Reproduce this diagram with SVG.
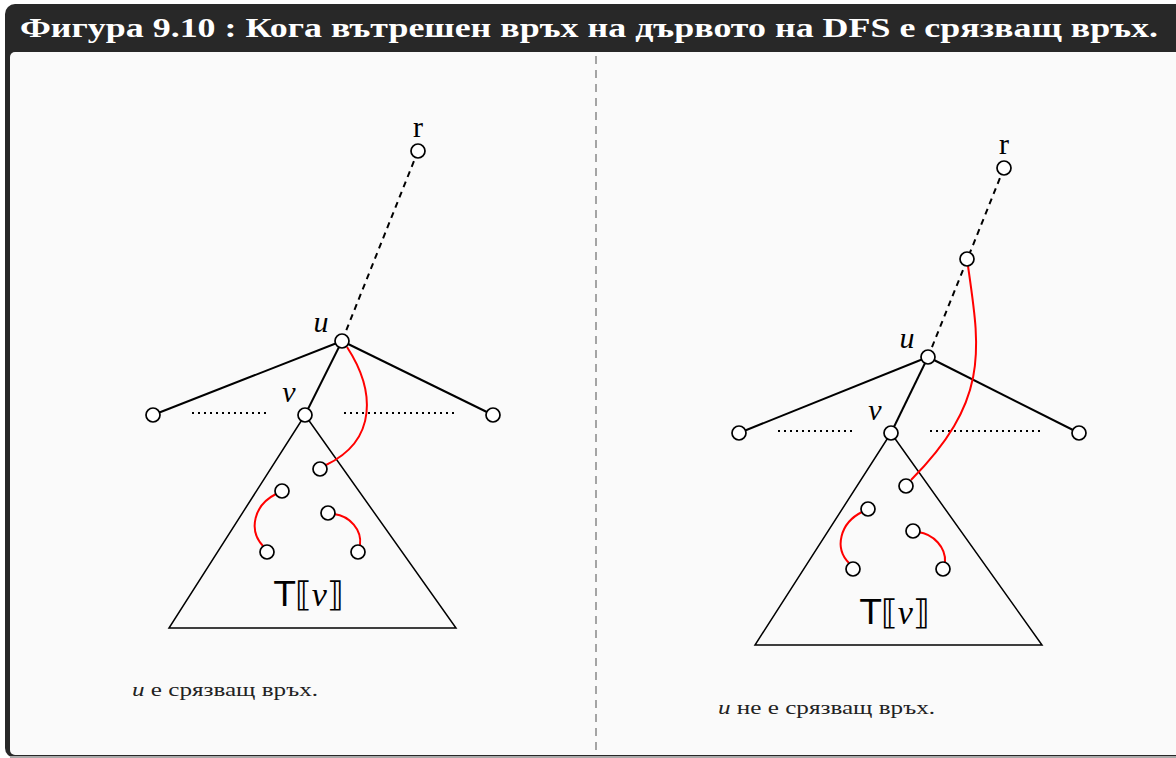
<svg xmlns="http://www.w3.org/2000/svg" width="1176" height="758" viewBox="0 0 1176 758">
<style>
.edge{stroke:#000;stroke-width:2;fill:none}
.tree{stroke:#000;stroke-width:2;stroke-dasharray:6,5;fill:none}
.dots{stroke:#000;stroke-width:2;stroke-dasharray:2,4;fill:none}
.tri{stroke:#000;stroke-width:1.5;fill:none}
.back{stroke:#f00;stroke-width:2;fill:none}
.node{fill:#fff;stroke:#000;stroke-width:1.7}
.lbl{font-family:"Liberation Serif",serif;font-style:italic;font-size:30px;fill:#000;text-anchor:middle}
.cap{font-family:"Liberation Serif",serif;font-size:18px;fill:#222}
.tv{font-family:"DejaVu Sans",sans-serif;font-size:34px;fill:#000;text-anchor:middle}
.title{font-family:"Liberation Serif",serif;font-weight:bold;font-size:28px;fill:#fff}
</style>
<rect x="0" y="0" width="1176" height="758" fill="#fff"/>
<rect x="5" y="4" width="1220" height="754" rx="10" fill="#282828"/>
<rect x="10" y="52" width="1220" height="703" rx="5" fill="#fafafa"/>
<line x1="10" y1="757" x2="1176" y2="757" stroke="#aaa" stroke-width="2"/>
<text class="title" x="20" y="37" textLength="1138" lengthAdjust="spacingAndGlyphs">Фигура 9.10 : Кога вътрешен връх на дървото на DFS е срязващ връх.</text>
<line x1="596" y1="56" x2="596" y2="754" stroke="#888" stroke-width="1.5" stroke-dasharray="8,6"/>

<g id="connectors">
<line class="tree" x1="418" y1="151" x2="342" y2="341"/>
<line class="edge" x1="342" y1="341" x2="153" y2="415"/>
<line class="edge" x1="342" y1="341" x2="493" y2="415"/>
<line class="edge" x1="342" y1="341" x2="305" y2="415"/>
<line class="dots" x1="192" y1="413" x2="268" y2="413"/>
<line class="dots" x1="344" y1="413" x2="456" y2="413"/>
<polyline class="tri" points="305,415 169,628 456,628 305,415"/>
<path class="back" d="M347 347 C375 390 378 440 326 465"/>
<path class="back" d="M276 494 C254 505 248 530 263 546"/>
<path class="back" d="M334 514 C350 516 362 530 360 545"/>
<line class="tree" x1="1004" y1="168" x2="928" y2="357"/>
<line class="edge" x1="928" y1="357" x2="739" y2="433"/>
<line class="edge" x1="928" y1="357" x2="1079" y2="433"/>
<line class="edge" x1="928" y1="357" x2="891" y2="433"/>
<line class="dots" x1="778" y1="431" x2="854" y2="431"/>
<line class="dots" x1="930" y1="431" x2="1042" y2="431"/>
<polyline class="tri" points="891,433 755,645 1042,645 891,433"/>
<path class="back" d="M968 266 C980 350 990 400 911 480"/>
<path class="back" d="M862 512 C840 523 834 548 849 563"/>
<path class="back" d="M918 532 C934 534 946 548 945 562"/>
</g>

<g id="left-r"><circle class="node" cx="418" cy="151" r="7"/><text class="lbl" x="418" y="137" style="font-style:normal">r</text></g>
<g id="left-u"><circle class="node" cx="342" cy="341" r="7"/><text class="lbl" x="321" y="332">u</text></g>
<g id="left-v"><circle class="node" cx="305" cy="415" r="7"/><text class="lbl" x="289" y="402">v</text></g>
<g id="left-l"><circle class="node" cx="153" cy="415" r="7"/></g>
<g id="left-rr"><circle class="node" cx="493" cy="415" r="7"/></g>
<g id="left-a"><circle class="node" cx="320" cy="469" r="7"/></g>
<g id="left-b"><circle class="node" cx="282" cy="491" r="7"/></g>
<g id="left-c"><circle class="node" cx="328" cy="513" r="7"/></g>
<g id="left-d"><circle class="node" cx="267" cy="552" r="7"/></g>
<g id="left-e"><circle class="node" cx="358" cy="552" r="7"/></g>
<g id="left-T"><text class="tv" x="309" y="606">T⟦<tspan font-family="Liberation Serif, serif" font-style="italic">v</tspan>⟧</text></g>
<text class="cap" x="132" y="696" textLength="186" lengthAdjust="spacingAndGlyphs"><tspan font-style="italic">u</tspan> е срязващ връх.</text>

<g id="right-r"><circle class="node" cx="1004" cy="168" r="7"/><text class="lbl" x="1004" y="154" style="font-style:normal">r</text></g>
<g id="right-w"><circle class="node" cx="967" cy="259" r="7"/></g>
<g id="right-u"><circle class="node" cx="928" cy="357" r="7"/><text class="lbl" x="907" y="348">u</text></g>
<g id="right-v"><circle class="node" cx="891" cy="433" r="7"/><text class="lbl" x="875" y="420">v</text></g>
<g id="right-l"><circle class="node" cx="739" cy="433" r="7"/></g>
<g id="right-rr"><circle class="node" cx="1079" cy="433" r="7"/></g>
<g id="right-a"><circle class="node" cx="906" cy="486" r="7"/></g>
<g id="right-b"><circle class="node" cx="868" cy="509" r="7"/></g>
<g id="right-c"><circle class="node" cx="913" cy="531" r="7"/></g>
<g id="right-d"><circle class="node" cx="853" cy="569" r="7"/></g>
<g id="right-e"><circle class="node" cx="943" cy="569" r="7"/></g>
<g id="right-T"><text class="tv" x="895" y="624">T⟦<tspan font-family="Liberation Serif, serif" font-style="italic">v</tspan>⟧</text></g>
<text class="cap" x="718" y="714" textLength="217" lengthAdjust="spacingAndGlyphs"><tspan font-style="italic">u</tspan> не е срязващ връх.</text>
</svg>
